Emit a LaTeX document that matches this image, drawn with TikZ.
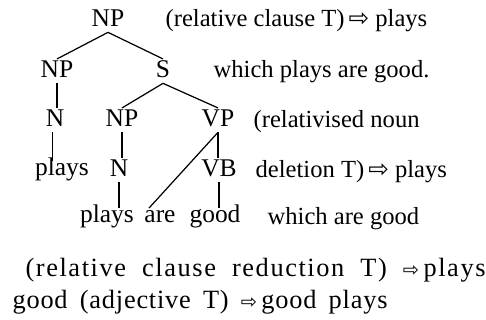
\documentclass[tikz,border=0pt]{standalone}
\usepackage{fontspec}
\setmainfont{Liberation Serif}
\newfontfamily\arrowfont{DejaVu Sans}
\newfontfamily\spacedfont[LetterSpace=6]{Liberation Serif}
\newfontfamily\lessspacedfont[LetterSpace=3]{Liberation Serif}
\usetikzlibrary{calc}
\newcommand{\wto}{{\arrowfont\symbol{"21E8}}}

\begin{document}
\begin{tikzpicture}[x=0.02cm,y=-0.02cm,line width=0.7pt,
  cat/.style={inner sep=2pt,font=\fontsize{14.5}{17}\selectfont,text height=0.85em,text depth=0.07em,anchor=base},
  word/.style={cat,text height=0.62em},
  note/.style={inner sep=0pt,font=\fontsize{14}{17}\selectfont,anchor=base west},
  rule/.style={inner sep=0pt,font=\spacedfont\fontsize{15}{18}\selectfont,anchor=base west}]
\useasboundingbox (0,0) rectangle (486,320);
% tree
\node[cat] (np0) at (108,27) {NP};
\node[cat] (np1) at (57,78) {NP};
\node[cat] (s) at (163,78) {S};
\node[cat] (n1) at (55,127) {N};
\node[cat] (np2) at (122,127) {NP};
\node[cat] (vp) at (218,127) {VP};
\node[word] (plays1) at (62,176) {plays};
\node[cat] (n2) at (119,177) {N};
\node[cat] (vb) at (219,177) {VB};
\node[word] (plays2) at (107,223) {plays};
\node[word] (are) at (160,223) {are};
\node[word] (good) at (215,223) {good};
\draw (np0.south) -- (np1.north);
\draw (np0.south) -- (s.north);
\draw (np1.south) -- (np1.south |- n1.north);
\draw (s.south) -- (np2.north);
\draw (s.south) -- (vp.north);
\draw ([xshift=-1.5pt]n1.south) -- ([xshift=-1.5pt]n1.south |- plays1.north);
\draw (np2.south) -- (np2.south |- n2.north);
\draw (n2.south) -- (n2.south |- plays2.north);
\draw (vp.south) -- (vp.south |- vb.north);
\draw (vp.south) -- ([xshift=5pt]are.north west);
\draw (vb.south) -- (vb.south |- good.north);
% transformations
\node[note] (t1) at (165,27) {(relative clause T)\,\wto\ plays};
\node[note] (t2) at (213,78) {which plays are good.};
\node[note] (t3) at (253,128) {(relativised noun};
\node[note] (t4) at (255,178) {deletion T)\,\wto\ plays};
\node[note] (t5) at (267,225) {which are good};
\node[rule] (r1) at (25,276) {\makebox[9.2cm][s]{(relative clause reduction T) {\fontsize{11}{13}\selectfont\wto}\,plays}};
\node[rule,font=\lessspacedfont\fontsize{15}{18}\selectfont] (r2) at (12,308) {\makebox[7.5cm][s]{good (adjective T) {\fontsize{11}{13}\selectfont\wto}\,good plays}};
\end{tikzpicture}
\end{document}
